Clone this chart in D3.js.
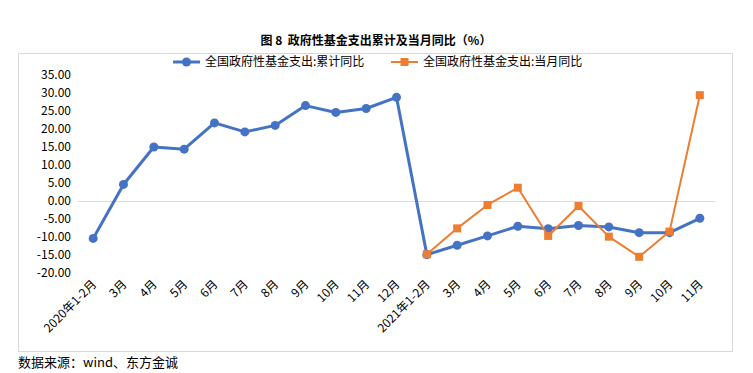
<!DOCTYPE html>
<html>
<head>
<meta charset="utf-8">
<script src="https://cdn.jsdelivr.net/npm/d3@7"></script>
<style>
  body { margin: 0; background: #fff; }
  svg { font-family: "Noto Sans CJK SC", "Microsoft YaHei", sans-serif; }
</style>
</head>
<body>
<svg id="chart" width="753" height="373"></svg>
<script>
const categories = ['2020年1-2月', '3月', '4月', '5月', '6月', '7月', '8月', '9月', '10月', '11月', '12月',
  '2021年1-2月', '3月', '4月', '5月', '6月', '7月', '8月', '9月', '10月', '11月'];
const cumulative = [-10.4, 4.6, 15.0, 14.4, 21.7, 19.2, 21.0, 26.5, 24.6, 25.7, 28.8,
  -14.9, -12.3, -9.7, -7.0, -7.7, -6.8, -7.2, -8.8, -8.8, -4.8];
const monthly = [null, null, null, null, null, null, null, null, null, null, null,
  -14.8, -7.6, -1.1, 3.7, -9.7, -1.4, -9.9, -15.5, -8.5, 29.4];
const yTicks = [35, 30, 25, 20, 15, 10, 5, 0, -5, -10, -15, -20];
const seriesNames = ['全国政府性基金支出:累计同比', '全国政府性基金支出:当月同比'];

const BLUE = '#4472C4';
const ORANGE = '#ED7D31';

const svg = d3.select('#chart');

// outer frame
svg.append('rect')
  .attr('x', 18.5).attr('y', 53.5)
  .attr('width', 714).attr('height', 298)
  .attr('fill', 'none').attr('stroke', '#d9d9d9');

svg.append('text')
  .attr('x', 376).attr('y', 45)
  .attr('text-anchor', 'middle')
  .attr('font-size', 12).attr('font-weight', 'bold')
  .style('white-space', 'pre')
  .text('图 8  政府性基金支出累计及当月同比（%）');

const x = d3.scaleBand()
  .domain(d3.range(categories.length))
  .range([78, 715]);
const y = d3.scaleLinear().domain([-20, 35]).range([273, 75]);
const cx = i => x(i) + x.bandwidth() / 2;

// y axis labels
svg.append('g').selectAll('text')
  .data(yTicks).join('text')
  .attr('x', 71).attr('y', d => y(d)).attr('dy', '0.35em')
  .attr('text-anchor', 'end').attr('font-size', 12).attr('fill', '#000')
  .text(d => d.toFixed(2));

// zero line
svg.append('line')
  .attr('x1', 78).attr('x2', 715)
  .attr('y1', Math.round(y(0)) + 0.5).attr('y2', Math.round(y(0)) + 0.5)
  .attr('stroke', '#d9d9d9');

// x labels
svg.append('g').selectAll('text')
  .data(categories).join('text')
  .attr('transform', (d, i) => `translate(${cx(i) + 4},${285}) rotate(-45)`)
  .attr('text-anchor', 'end').attr('font-size', 12)
  .text(d => d);

const line = d3.line()
  .defined(d => d != null)
  .x((d, i) => cx(i)).y(d => y(d));

svg.append('path')
  .datum(cumulative)
  .attr('d', line)
  .attr('fill', 'none').attr('stroke', BLUE).attr('stroke-width', 3)
  .attr('stroke-linejoin', 'round');

svg.append('g').selectAll('circle')
  .data(cumulative).join('circle')
  .attr('cx', (d, i) => cx(i)).attr('cy', d => y(d))
  .attr('r', 4.5).attr('fill', BLUE);

svg.append('path')
  .datum(monthly)
  .attr('d', line)
  .attr('fill', 'none').attr('stroke', ORANGE).attr('stroke-width', 2)
  .attr('stroke-linejoin', 'round');

svg.append('g').selectAll('rect')
  .data(monthly.map((v, i) => ({ v, i })).filter(d => d.v != null)).join('rect')
  .attr('x', d => cx(d.i) - 4).attr('y', d => y(d.v) - 4)
  .attr('width', 8).attr('height', 8).attr('fill', ORANGE);

// legend
const legend = svg.append('g');
legend.append('line').attr('x1', 173).attr('x2', 200).attr('y1', 62).attr('y2', 62)
  .attr('stroke', BLUE).attr('stroke-width', 3);
legend.append('circle').attr('cx', 186.5).attr('cy', 62).attr('r', 4.5).attr('fill', BLUE);
legend.append('text').attr('x', 205).attr('y', 62).attr('dy', '0.35em')
  .attr('font-size', 12).text(seriesNames[0]);
legend.append('line').attr('x1', 391).attr('x2', 418).attr('y1', 62).attr('y2', 62)
  .attr('stroke', ORANGE).attr('stroke-width', 2);
legend.append('rect').attr('x', 400.5).attr('y', 58).attr('width', 8).attr('height', 8).attr('fill', ORANGE);
legend.append('text').attr('x', 423).attr('y', 62).attr('dy', '0.35em')
  .attr('font-size', 12).text(seriesNames[1]);

svg.append('text')
  .attr('x', 18).attr('y', 367)
  .attr('font-size', 13)
  .text('数据来源：wind、东方金诚');
</script>
</body>
</html>
